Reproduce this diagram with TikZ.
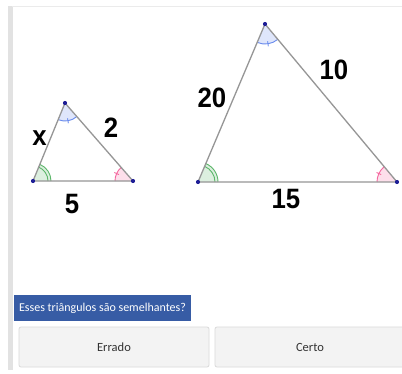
\documentclass[tikz,border=0pt]{standalone}
\usepackage{fontspec}
\setmainfont{Liberation Sans}
\newfontfamily\uifont{Carlito}
\newfontfamily\lblfont[FakeStretch=0.92]{Liberation Sans Bold}
\definecolor{edgegray}{RGB}{150,150,150}
\definecolor{dotblue}{RGB}{30,30,150}
\definecolor{angG}{RGB}{20,150,40}
\definecolor{angB}{RGB}{40,90,230}
\definecolor{angP}{RGB}{240,40,120}
\definecolor{qblue}{RGB}{55,92,165}
\definecolor{btnfill}{RGB}{243,243,243}
\definecolor{btnline}{RGB}{218,218,218}
\definecolor{barGray}{RGB}{226,226,226}
\tikzset{
  edge/.style={draw=edgegray, line width=1.3pt},
  vdot/.style={circle, fill=dotblue, inner sep=0pt, minimum size=4.2pt},
  lbl/.style={font=\lblfont\fontsize{28}{28}\selectfont, anchor=base, inner sep=0pt},
  btn/.style={draw=btnline, fill=btnfill, rounded corners=2pt, line width=0.8pt, font=\uifont\fontsize{12.5}{14}\selectfont, text=black!80, minimum height=40pt},
  arcline/.style={line width=0.9pt}
}
\begin{document}
\begin{tikzpicture}[x=1pt,y=1pt]
\useasboundingbox (0,0) rectangle (402,373);
\fill[white] (0,0) rectangle (402,373);
% frame
\fill[barGray] (8,3) rectangle (13,367);
\draw[barGray!70, line width=0.8pt] (12,367) -- (402,367);
% left triangle
\coordinate (A) at (33,192);
\coordinate (B) at (65,270);
\coordinate (C) at (133,192);
% right triangle
\coordinate (D) at (198,191);
\coordinate (E) at (265,349);
\coordinate (F) at (397,191);
% angle fills
\fill[angG!15] (A) -- ([shift={(0:18pt)}]A) arc[start angle=0,end angle=67.7,radius=18pt] -- cycle;
\fill[angB!15] (B) -- ([shift={(247.7:18pt)}]B) arc[start angle=247.7,end angle=311.1,radius=18pt] -- cycle;
\fill[angP!15] (C) -- ([shift={(131.1:18pt)}]C) arc[start angle=131.1,end angle=180,radius=18pt] -- cycle;
\fill[angG!15] (D) -- ([shift={(0:20pt)}]D) arc[start angle=0,end angle=67,radius=20pt] -- cycle;
\fill[angB!15] (E) -- ([shift={(247:20pt)}]E) arc[start angle=247,end angle=309.9,radius=20pt] -- cycle;
\fill[angP!15] (F) -- ([shift={(129.9:20pt)}]F) arc[start angle=129.9,end angle=180,radius=20pt] -- cycle;
% angle arcs
\draw[arcline, angG!70] ([shift={(0:18pt)}]A) arc[start angle=0,end angle=67.7,radius=18pt];
\draw[arcline, angG!70] ([shift={(0:15pt)}]A) arc[start angle=0,end angle=67.7,radius=15pt];
\draw[arcline, angB!70] ([shift={(247.7:18pt)}]B) arc[start angle=247.7,end angle=311.1,radius=18pt];
\draw[arcline, angB!70] ([shift={(279.4:15.5pt)}]B) -- ([shift={(279.4:20.5pt)}]B);
\draw[arcline, angP!70] ([shift={(131.1:18pt)}]C) arc[start angle=131.1,end angle=180,radius=18pt];
\draw[arcline, angP!70] ([shift={(155.5:15.5pt)}]C) -- ([shift={(155.5:20.5pt)}]C);
\draw[arcline, angG!70] ([shift={(0:20pt)}]D) arc[start angle=0,end angle=67,radius=20pt];
\draw[arcline, angG!70] ([shift={(0:17pt)}]D) arc[start angle=0,end angle=67,radius=17pt];
\draw[arcline, angB!70] ([shift={(247:20pt)}]E) arc[start angle=247,end angle=309.9,radius=20pt];
\draw[arcline, angB!70] ([shift={(278.5:17.5pt)}]E) -- ([shift={(278.5:22.5pt)}]E);
\draw[arcline, angP!70] ([shift={(129.9:20pt)}]F) arc[start angle=129.9,end angle=180,radius=20pt];
\draw[arcline, angP!70] ([shift={(155:17.5pt)}]F) -- ([shift={(155:22.5pt)}]F);
% edges
\draw[edge] (A) -- (B) -- (C) -- cycle;
\draw[edge] (D) -- (E) -- (F) -- cycle;
% vertices
\foreach \p in {A,B,C,D,E,F} \node[vdot] (dot\p) at (\p) {};
% labels
\node[lbl] (lx) at (39.5,228) {x};
\node[lbl] (l2) at (111,235) {2};
\node[lbl] (l5) at (72,160) {5};
\node[lbl] (l20) at (212,265) {20};
\node[lbl] (l10) at (334,293) {10};
\node[lbl] (l15) at (286,165) {15};
% question
\node[fill=qblue, text=white, font=\uifont\fontsize{12}{14}\selectfont, minimum width=177pt, minimum height=26pt, inner sep=0pt] (q) at (102.5,65) {Esses triângulos são semelhantes?};
% buttons
\node[btn, minimum width=190pt] (err) at (114,26) {Errado};
\node[btn, minimum width=190pt] (cer) at (310,26) {Certo};
\end{tikzpicture}
\end{document}
